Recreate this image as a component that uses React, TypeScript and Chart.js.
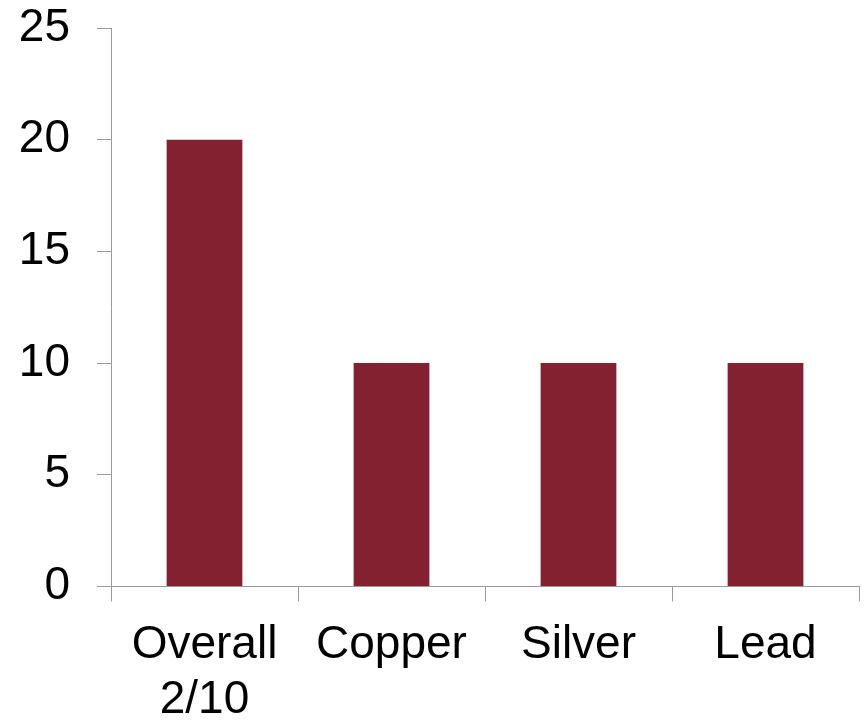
import React, { useEffect, useRef } from "react";
import { Chart, registerables } from "chart.js";

Chart.register(...registerables);

const categories: (string | string[])[] = [["Overall", "2/10"], "Copper", "Silver", "Lead"];
const values: number[] = [20, 10, 10, 10];
const yMin = 0;
const yMax = 25;
const yStep = 5;

export default function App() {
  const ref = useRef<HTMLCanvasElement | null>(null);
  useEffect(() => {
    if (!ref.current) return;
    const axisColor = "#9a9a9a";
    const font = { family: "'Liberation Sans', Arial, sans-serif", size: 46 };
    const chart = new Chart(ref.current, {
      type: "bar",
      data: {
        labels: categories as any,
        datasets: [
          {
            data: values,
            backgroundColor: "#832131",
            borderWidth: 0,
            barPercentage: 0.405,
            categoryPercentage: 1,
          },
        ],
      },
      options: {
        animation: false,
        responsive: false,
        maintainAspectRatio: false,
        layout: { padding: { top: 28, right: 9, left: 0, bottom: 0 } },
        plugins: { legend: { display: false }, tooltip: { enabled: false } },
        scales: {
          x: {
            offset: true,
            grid: {
              offset: true,
              drawOnChartArea: false,
              drawTicks: true,
              tickLength: 15,
              color: axisColor,
              lineWidth: 1,
            },
            border: { color: axisColor, width: 1 },
            ticks: { color: "#000", font, padding: 16, maxRotation: 0, autoSkip: false },
            afterFit: (s: any) => {
              s.height = 134.5;
              s.paddingLeft = 0;
              s.paddingRight = 0;
            },
          },
          y: {
            min: yMin,
            max: yMax,
            grid: {
              drawOnChartArea: false,
              drawTicks: true,
              tickLength: 14,
              color: axisColor,
              lineWidth: 1,
            },
            border: { color: axisColor, width: 1 },
            ticks: { stepSize: yStep, color: "#000", font, padding: 27 },
            afterFit: (s: any) => {
              s.width = 111;
              s.paddingTop = 0;
              s.paddingBottom = 0;
            },
          },
        },
      },
    });
    return () => chart.destroy();
  }, []);
  return (
    <div style={{ position: "absolute", left: 0, top: 0, width: 868, height: 721, background: "#fff" }}>
      <canvas ref={ref} width={868} height={721} style={{ display: "block" }} />
    </div>
  );
}
